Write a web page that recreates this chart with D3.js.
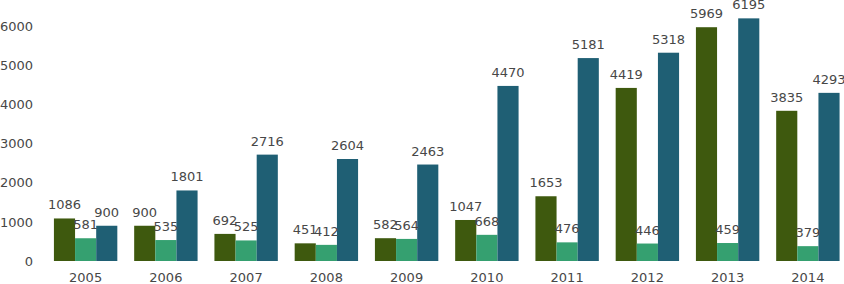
<!DOCTYPE html>
<html>
<head>
<meta charset="utf-8">
<script src="https://cdn.jsdelivr.net/npm/d3@7"></script>
<style>
  html, body { margin: 0; padding: 0; background: #fff; }
  svg { display: block; }
</style>
</head>
<body>
<div id="chart"></div>
<script>
// Data
const years = ['2005', '2006', '2007', '2008', '2009', '2010', '2011', '2012', '2013', '2014'];
const seriesA = [1086, 900, 692, 451, 582, 1047, 1653, 4419, 5969, 3835];
const seriesB = [581, 535, 525, 412, 564, 668, 476, 446, 459, 379];
const seriesC = [900, 1801, 2716, 2604, 2463, 4470, 5181, 5318, 6195, 4293];
const seriesColors = ['#3e590e', '#35a070', '#1f5f74'];
const yTicks = [0, 1000, 2000, 3000, 4000, 5000, 6000];

const width = 844;
const height = 284;

const svg = d3.select('#chart')
  .append('svg')
  .attr('width', width)
  .attr('height', height);

const x = d3.scaleBand()
  .domain(years)
  .range([45.5, 848])
  .paddingInner(0.21)
  .paddingOuter(0.105);

const series = [seriesA, seriesB, seriesC];
const x1 = d3.scaleBand()
  .domain(d3.range(series.length))
  .range([0, x.bandwidth()]);

const y = d3.scaleLinear()
  .domain([0, 6000])
  .range([261, 26]);

const font = '"DejaVu Sans", sans-serif';
const textColor = '#474747';

// Y axis (labels only, no line)
const yAxis = svg.append('g')
  .attr('transform', 'translate(33,0)')
  .call(d3.axisLeft(y).tickValues(yTicks).tickSize(0).tickPadding(0).tickFormat(d3.format('d')));
yAxis.select('.domain').remove();
yAxis.selectAll('text')
  .attr('font-family', font)
  .attr('font-size', '13px')
  .attr('fill', textColor);

// X axis (labels only)
const xAxis = svg.append('g')
  .attr('transform', 'translate(0,268)')
  .call(d3.axisBottom(x).tickSize(0).tickPadding(0));
xAxis.select('.domain').remove();
xAxis.selectAll('text')
  .attr('dy', '1.1em')
  .attr('font-family', font)
  .attr('font-size', '13px')
  .attr('fill', textColor);

// Bars and value labels
const groups = svg.append('g')
  .selectAll('g')
  .data(years)
  .join('g')
  .attr('transform', d => `translate(${x(d)},0)`);

series.forEach((values, si) => {
  groups.append('rect')
    .attr('x', x1(si))
    .attr('y', (d, i) => y(values[i]))
    .attr('width', x1.bandwidth())
    .attr('height', (d, i) => y(0) - y(values[i]))
    .attr('fill', seriesColors[si]);
});

series.forEach((values, si) => {
  groups.append('text')
    .attr('x', x1(si) + x1.bandwidth() / 2)
    .attr('y', (d, i) => y(values[i]) - 9)
    .attr('text-anchor', 'middle')
    .attr('font-family', font)
    .attr('font-size', '13px')
    .attr('fill', textColor)
    .text((d, i) => values[i]);
});
</script>
</body>
</html>
